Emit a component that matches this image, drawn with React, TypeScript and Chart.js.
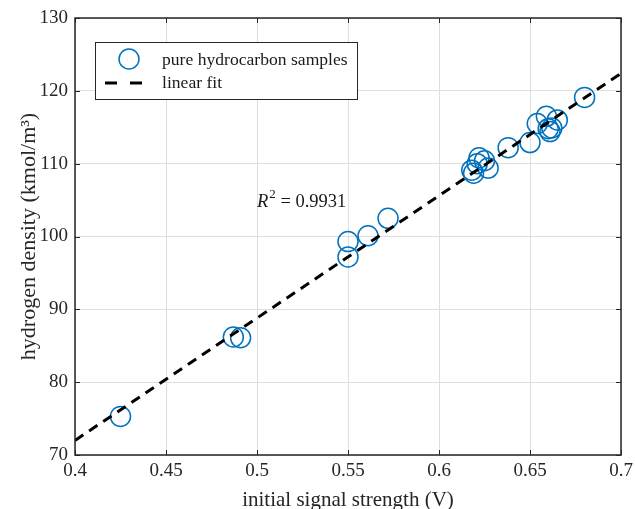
import React, { useEffect, useRef } from "react";
import { Chart, registerables } from "chart.js";

Chart.register(...registerables);

// ---- data ----
const sampleX = [0.425, 0.487, 0.491, 0.55, 0.55, 0.561, 0.572, 0.618, 0.619, 0.621, 0.622, 0.625, 0.627, 0.638, 0.65, 0.654, 0.659, 0.66, 0.661, 0.662, 0.665, 0.68];
const sampleY = [75.3, 86.2, 86.1, 99.3, 97.2, 100.1, 102.5, 109.1, 108.7, 110.0, 110.8, 110.4, 109.4, 112.2, 112.9, 115.5, 116.5, 114.8, 114.4, 114.9, 116.0, 119.1];
const fitX = [0.4, 0.7];
const fitY = [72.0, 122.4];
const xTickValues = [0.4, 0.45, 0.5, 0.55, 0.6, 0.65, 0.7];
const yTickValues = [70, 80, 90, 100, 110, 120, 130];
const seriesLabels = ["pure hydrocarbon samples", "linear fit"];
const r2Text = "0.9931";

const FONT = "'Liberation Serif', 'Times New Roman', serif";
const AXIS_COLOR = "#262626";
const BLUE = "#0072BD";

const framePlugin = {
  id: "frame",
  afterDatasetsDraw(chart: any) {
    const { ctx, chartArea: a, scales } = chart;
    const xs = scales.x;
    const ys = scales.y;
    ctx.save();
    // R^2 annotation
    const rx = xs.getPixelForValue(0.5);
    const ry = ys.getPixelForValue(104);
    ctx.fillStyle = "#1a1a1a";
    ctx.textBaseline = "alphabetic";
    ctx.textAlign = "left";
    ctx.font = `italic 18.5px ${FONT}`;
    ctx.fillText("R", rx, ry);
    let w = ctx.measureText("R").width;
    ctx.font = `13px ${FONT}`;
    ctx.fillText("2", rx + w + 1, ry - 9);
    w += ctx.measureText("2").width + 1;
    ctx.font = `18.5px ${FONT}`;
    ctx.fillText(" = " + r2Text, rx + w, ry);

    // frame
    ctx.strokeStyle = AXIS_COLOR;
    ctx.lineWidth = 1.5;
    ctx.strokeRect(a.left, a.top, a.right - a.left, a.bottom - a.top);
    // inward ticks
    ctx.lineWidth = 1;
    const tl = 5;
    ctx.beginPath();
    xTickValues.forEach((v) => {
      const px = Math.round(xs.getPixelForValue(v)) + 0.5;
      ctx.moveTo(px, a.bottom);
      ctx.lineTo(px, a.bottom - tl);
      ctx.moveTo(px, a.top);
      ctx.lineTo(px, a.top + tl);
    });
    yTickValues.forEach((v) => {
      const py = Math.round(ys.getPixelForValue(v)) + 0.5;
      ctx.moveTo(a.left, py);
      ctx.lineTo(a.left + tl, py);
      ctx.moveTo(a.right, py);
      ctx.lineTo(a.right - tl, py);
    });
    ctx.stroke();

    // legend
    const lx = a.left + 20;
    const ly = a.top + 24;
    const lw = 262;
    const lh = 57;
    ctx.fillStyle = "#ffffff";
    ctx.fillRect(lx, ly, lw, lh);
    ctx.strokeStyle = AXIS_COLOR;
    ctx.lineWidth = 1;
    ctx.strokeRect(lx + 0.5, ly + 0.5, lw, lh);
    ctx.strokeStyle = BLUE;
    ctx.lineWidth = 1.5;
    ctx.beginPath();
    ctx.arc(lx + 34, ly + 17, 10, 0, Math.PI * 2);
    ctx.stroke();
    ctx.strokeStyle = "#000000";
    ctx.lineWidth = 3;
    ctx.setLineDash([12, 13]);
    ctx.beginPath();
    ctx.moveTo(lx + 10, ly + 41);
    ctx.lineTo(lx + 49, ly + 41);
    ctx.stroke();
    ctx.setLineDash([]);
    ctx.fillStyle = "#1a1a1a";
    ctx.font = `17.6px ${FONT}`;
    ctx.textBaseline = "middle";
    ctx.fillText(seriesLabels[0], lx + 67, ly + 18);
    ctx.fillText(seriesLabels[1], lx + 67, ly + 41);
    ctx.restore();
  },
};

export default function App() {
  const ref = useRef<HTMLCanvasElement | null>(null);
  useEffect(() => {
    if (!ref.current) return;
    const chart = new Chart(ref.current, {
      type: "scatter",
      data: {
        datasets: [
          {
            label: seriesLabels[1],
            data: fitX.map((x, i) => ({ x, y: fitY[i] })),
            showLine: true,
            borderColor: "#000000",
            borderWidth: 3,
            borderDash: [10, 7],
            pointRadius: 0,
            order: 0,
          },
          {
            label: seriesLabels[0],
            data: sampleX.map((x, i) => ({ x, y: sampleY[i] })),
            showLine: false,
            pointStyle: "circle",
            pointRadius: 10,
            pointBorderWidth: 1.5,
            borderColor: BLUE,
            backgroundColor: "rgba(0,0,0,0)",
            order: 1,
          },
        ],
      },
      options: {
        animation: false,
        responsive: false,
        devicePixelRatio: 1,
        layout: { padding: { top: 18, right: 14, left: 0, bottom: 0 } },
        plugins: { legend: { display: false }, tooltip: { enabled: false } },
        scales: {
          x: {
            type: "linear",
            min: 0.4,
            max: 0.7,
            afterBuildTicks: (s: any) => {
              s.ticks = xTickValues.map((v) => ({ value: v }));
            },
            afterFit: (s: any) => {
              s.height = 54;
              s.paddingLeft = 0;
              s.paddingRight = 0;
            },
            ticks: {
              padding: 5,
              color: "#262626",
              font: { family: FONT, size: 19 },
              callback: (v: any) => String(Number(Number(v).toFixed(2))),
            },
            grid: { color: "#dedede", lineWidth: 1, drawTicks: false },
            border: { display: false },
            title: {
              display: true,
              text: "initial signal strength (V)",
              color: "#262626",
              font: { family: FONT, size: 21, lineHeight: 0.8 },
              padding: { top: 0, bottom: 0 },
            },
          },
          y: {
            type: "linear",
            min: 70,
            max: 130,
            afterBuildTicks: (s: any) => {
              s.ticks = yTickValues.map((v) => ({ value: v }));
            },
            afterFit: (s: any) => {
              s.width = 75;
              s.paddingTop = 0;
              s.paddingBottom = 0;
            },
            ticks: {
              padding: 7,
              color: "#262626",
              font: { family: FONT, size: 19 },
            },
            grid: { color: "#dedede", lineWidth: 1, drawTicks: false },
            border: { display: false },
            title: {
              display: true,
              text: "hydrogen density (kmol/m³)",
              color: "#262626",
              font: { family: FONT, size: 22 },
              padding: { top: 16, bottom: 0 },
            },
          },
        },
      },
      plugins: [framePlugin],
    });
    return () => chart.destroy();
  }, []);
  return (
    <div style={{ position: "fixed", left: 0, top: 0, width: 635, height: 509, background: "#fff" }}>
      <canvas ref={ref} width={635} height={509} />
    </div>
  );
}
